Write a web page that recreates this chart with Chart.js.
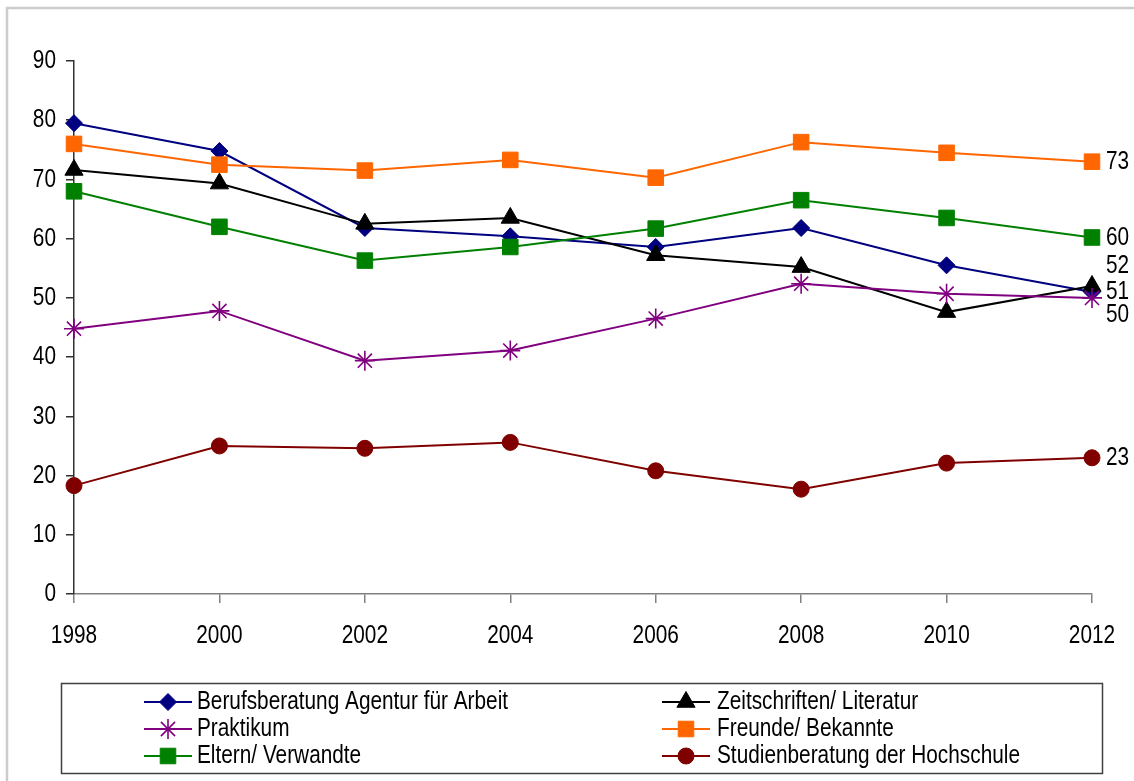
<!DOCTYPE html>
<html>
<head>
<meta charset="utf-8">
<title>Informationsquellen 1998–2012</title>
<script src="https://cdn.jsdelivr.net/npm/chart.js@4/dist/chart.umd.min.js"></script>
<style>
  html, body { margin: 0; padding: 0; background: #fff; }
  canvas { display: block; }
</style>
</head>
<body>
<canvas id="chart" width="1134" height="781"></canvas>
<script>
// values (percent)
const years = ["1998", "2000", "2002", "2004", "2006", "2008", "2010", "2012"];
const berufsberatung = [79.5, 74.8, 61.8, 60.4, 58.6, 61.8, 55.5, 51];
const zeitschriften = [71.6, 69.3, 62.5, 63.5, 57.2, 55.2, 47.6, 52];
const praktikum = [44.8, 47.8, 39.4, 41.1, 46.5, 52.4, 50.7, 50];
const freunde = [76.0, 72.5, 71.5, 73.3, 70.3, 76.3, 74.5, 73];
const eltern = [68.0, 62.0, 56.3, 58.6, 61.7, 66.5, 63.5, 60.2];
const studienberatung = [18.3, 25.0, 24.6, 25.6, 20.8, 17.7, 22.1, 23.0];

const seriesNames = [
  "Berufsberatung Agentur für Arbeit",
  "Zeitschriften/ Literatur",
  "Praktikum",
  "Freunde/ Bekannte",
  "Eltern/ Verwandte",
  "Studienberatung der Hochschule",
];
const endLabels = ["51", "52", "50", "73", "60", "23"];
const yTicks = [0, 10, 20, 30, 40, 50, 60, 70, 80, 90];

// no Arial Narrow here: Liberation Sans squeezed horizontally comes close
const FONT = "26px 'Liberation Sans', Arial, sans-serif";
const NARROW = 0.8;

const STYLE = [
  { color: "#000080", point: "rectRot", radius: 8.5, width: 1 },
  { color: "#000000", point: "triangle", radius: 10.5, width: 1 },
  { color: "#800080", point: "star", radius: 10, width: 1.6 },
  { color: "#ff6600", point: "rect", radius: 11, width: 1 },
  { color: "#008000", point: "rect", radius: 11, width: 1 },
  { color: "#800000", point: "circle", radius: 8, width: 1 },
];
// vertical nudges for the end labels so 52/51/50 don't collide
const labelShift = [0, -20, 17, 0, 0, 0];

const values = [berufsberatung, zeitschriften, praktikum, freunde, eltern, studienberatung];

const datasets = values.map((data, i) => {
  const s = STYLE[i];
  return {
    label: seriesNames[i],
    data,
    borderColor: s.color,
    backgroundColor: s.color,
    borderWidth: 2,
    pointStyle: s.point,
    pointRadius: s.radius,
    pointHoverRadius: s.radius,
    pointBackgroundColor: s.color,
    pointBorderColor: s.color,
    pointBorderWidth: s.width,
    tension: 0,
    fill: false,
    // first series sits at the bottom, like the original
    order: values.length - i,
  };
});

function narrowText(ctx, text, x, y, align) {
  ctx.save();
  ctx.translate(x, y);
  ctx.scale(NARROW, 1);
  ctx.textAlign = align || "left";
  ctx.textBaseline = "middle";
  ctx.fillText(text, 0, 0);
  ctx.restore();
}

const frame = {
  id: "frame",
  beforeDraw(chart) {
    const ctx = chart.ctx;
    ctx.save();
    ctx.fillStyle = "#fff";
    ctx.fillRect(0, 0, chart.width, chart.height);
    ctx.strokeStyle = "#cccccc";
    ctx.lineWidth = 2.5;
    ctx.beginPath();
    ctx.moveTo(7, chart.height);
    ctx.lineTo(7, 8);
    ctx.lineTo(chart.width, 8);
    ctx.stroke();
    ctx.restore();
  },
};

// tick labels drawn from the scales' own ticks, in the narrow face
const axisLabels = {
  id: "axisLabels",
  afterDraw(chart) {
    const ctx = chart.ctx;
    const xs = chart.scales.x;
    const ys = chart.scales.y;
    ctx.save();
    ctx.font = FONT;
    ctx.fillStyle = "#000";
    ys.ticks.forEach((t) => {
      narrowText(ctx, String(t.value), ys.right - 18, ys.getPixelForValue(t.value), "right");
    });
    xs.ticks.forEach((t, i) => {
      narrowText(ctx, String(chart.data.labels[i]), xs.getPixelForTick(i), xs.top + 42, "center");
    });
    ctx.restore();
  },
};

const endValueLabels = {
  id: "endValueLabels",
  afterDatasetsDraw(chart) {
    const ctx = chart.ctx;
    ctx.save();
    ctx.font = FONT;
    ctx.fillStyle = "#000";
    chart.data.datasets.forEach((ds, i) => {
      const meta = chart.getDatasetMeta(i);
      const el = meta.data[meta.data.length - 1];
      if (!el) return;
      narrowText(ctx, endLabels[i], el.x + 14, el.y + labelShift[i], "left");
    });
    ctx.restore();
  },
};

function drawMarker(ctx, s, x, y) {
  ctx.fillStyle = s.color;
  ctx.strokeStyle = s.color;
  ctx.lineWidth = s.width;
  if (Chart.helpers && Chart.helpers.drawPoint) {
    Chart.helpers.drawPoint(ctx, { pointStyle: s.point, radius: s.radius, rotation: 0, borderWidth: s.width }, x, y);
  }
}

const boxLegend = {
  id: "boxLegend",
  afterDraw(chart) {
    const ctx = chart.ctx;
    ctx.save();
    ctx.strokeStyle = "#404040";
    ctx.lineWidth = 1.5;
    ctx.strokeRect(61.5, 683.5, 1041, 90);

    const cols = [{ x0: 144, x1: 192, tx: 197 }, { x0: 662, x1: 710, tx: 717 }];
    const rows = [702, 729, 756];
    ctx.font = FONT;
    seriesNames.forEach((name, i) => {
      const c = cols[i % 2];
      const y = rows[Math.floor(i / 2)];
      const s = STYLE[i];
      ctx.strokeStyle = s.color;
      ctx.lineWidth = 2;
      ctx.beginPath();
      ctx.moveTo(c.x0, y);
      ctx.lineTo(c.x1, y);
      ctx.stroke();
      drawMarker(ctx, s, (c.x0 + c.x1) / 2, y);
      ctx.fillStyle = "#000";
      narrowText(ctx, name, c.tx, y, "left");
    });
    ctx.restore();
  },
};

new Chart(document.getElementById("chart"), {
  type: "line",
  data: { labels: years, datasets },
  plugins: [frame, endValueLabels, axisLabels, boxLegend],
  options: {
    responsive: false,
    animation: false,
    devicePixelRatio: 1,
    layout: { padding: { top: 61, right: 42, left: 0, bottom: 0 } },
    plugins: {
      legend: { display: false },
      tooltip: { enabled: false },
      title: { display: false },
    },
    scales: {
      x: {
        offset: false,
        border: { color: "#808080", width: 1.5 },
        grid: { drawOnChartArea: false, drawTicks: true, tickLength: 9, color: "#808080", lineWidth: 1.5 },
        ticks: { display: false, autoSkip: false, maxRotation: 0 },
        afterFit(scale) { scale.height = 187; },
      },
      y: {
        min: 0,
        max: 90,
        afterBuildTicks(scale) { scale.ticks = yTicks.map((v) => ({ value: v })); },
        border: { color: "#303030", width: 1.5 },
        grid: { drawOnChartArea: false, drawTicks: true, tickLength: 8, color: "#303030", lineWidth: 1.5 },
        ticks: { display: false },
        afterFit(scale) { scale.width = 74; },
      },
    },
  },
});
</script>
</body>
</html>
